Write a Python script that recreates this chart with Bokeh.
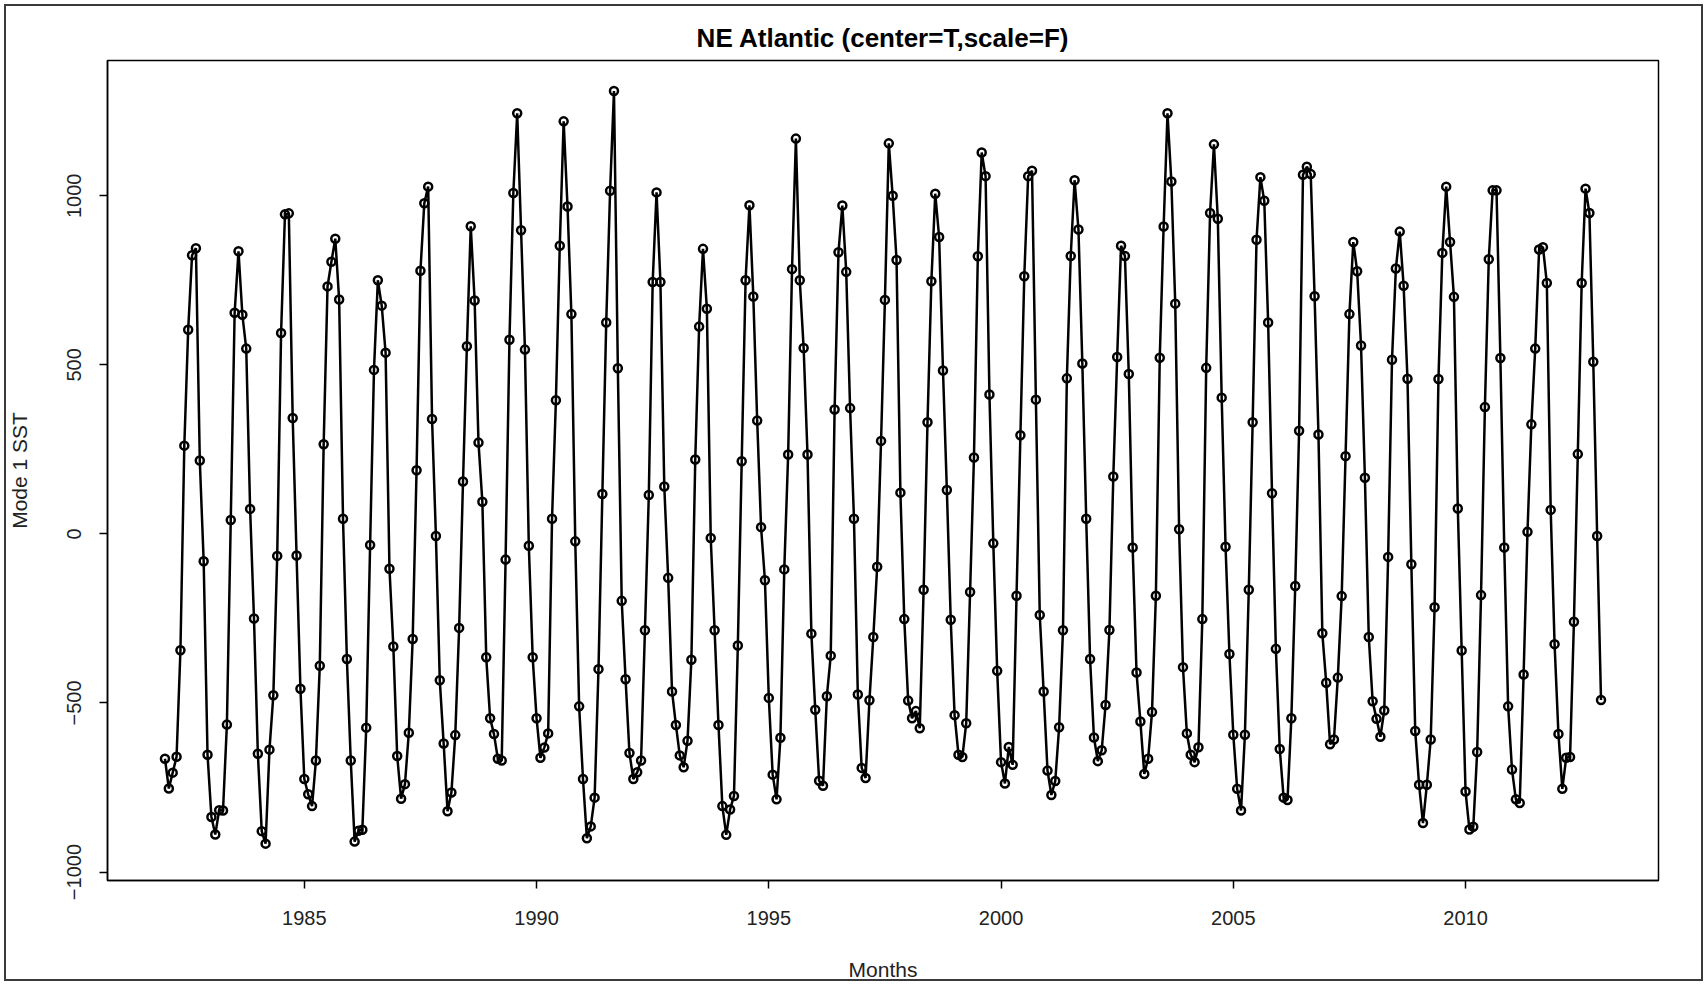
from bokeh.plotting import figure
from bokeh.models import Range1d, FixedTicker
from bokeh.embed import file_html
from bokeh.resources import INLINE

# ---- data: monthly values, Jan..Dec of each year ----
y1982 = [-665, -753, -706, -659, -344, 261, 604, 824, 845, 217, -81, -653]
y1983 = [-837, -889, -817, -818, -564, 41, 654, 836, 648, 548, 74, -250]
y1984 = [-650, -879, -916, -638, -477, -65, 594, 945, 948, 343, -64, -458]
y1985 = [-725, -770, -805, -670, -390, 265, 732, 805, 873, 693, 45, -370]
y1986 = [-670, -910, -878, -875, -573, -33, 485, 750, 675, 536, -103, -333]
y1987 = [-657, -783, -740, -588, -311, 188, 778, 978, 1027, 340, -6, -433]
y1988 = [-620, -820, -765, -595, -278, 155, 555, 910, 690, 270, 95, -365]
y1989 = [-545, -592, -665, -670, -76, 574, 1008, 1244, 898, 545, -35, -365]
y1990 = [-545, -662, -632, -590, 45, 395, 852, 1220, 968, 650, -22, -510]
y1991 = [-725, -900, -865, -780, -400, 118, 625, 1015, 1310, 490, -198, -430]
y1992 = [-648, -725, -705, -670, -285, 115, 745, 1010, 745, 140, -130, -466]
y1993 = [-565, -655, -690, -612, -372, 220, 613, 843, 666, -12, -285, -565]
y1994 = [-805, -890, -815, -775, -330, 215, 750, 972, 702, 335, 20, -137]
y1995 = [-485, -712, -785, -603, -105, 235, 783, 1169, 750, 550, 235, -295]
y1996 = [-520, -730, -745, -480, -360, 368, 833, 971, 775, 372, 45, -475]
y1997 = [-692, -722, -492, -305, -97, 275, 692, 1155, 1000, 810, 122, -252]
y1998 = [-493, -545, -524, -575, -165, 330, 747, 1006, 878, 483, 130, -254]
y1999 = [-536, -653, -660, -560, -172, 226, 821, 1128, 1058, 412, -28, -405]
y2000 = [-675, -738, -630, -683, -183, 292, 762, 1058, 1074, 397, -240, -466]
y2001 = [-700, -772, -731, -572, -285, 460, 822, 1046, 900, 504, 45, -370]
y2002 = [-602, -672, -640, -506, -284, 170, 523, 852, 822, 473, -40, -410]
y2003 = [-555, -710, -665, -527, -183, 521, 909, 1244, 1042, 681, 14, -394]
y2004 = [-590, -653, -675, -631, -252, 491, 949, 1152, 932, 403, -38, -355]
y2005 = [-594, -754, -818, -594, -165, 330, 870, 1055, 985, 625, 120, -340]
y2006 = [-636, -780, -787, -545, -154, 305, 1062, 1086, 1064, 703, 294, -294]
y2007 = [-440, -622, -608, -425, -184, 230, 650, 863, 777, 557, 166, -305]
y2008 = [-495, -547, -600, -522, -68, 515, 785, 894, 734, 459, -90, -583]
y2009 = [-742, -855, -742, -608, -217, 458, 831, 1027, 863, 701, 75, -345]
y2010 = [-762, -874, -866, -645, -181, 375, 812, 1016, 1016, 520, -40, -510]
y2011 = [-697, -785, -796, -416, 6, 324, 548, 841, 848, 742, 71, -326]
y2012 = [-592, -754, -662, -660, -260, 236, 742, 1021, 949, 509, -6, -491]

years = list(range(1982, 2013))
yearly = [y1982, y1983, y1984, y1985, y1986, y1987, y1988, y1989, y1990,
          y1991, y1992, y1993, y1994, y1995, y1996, y1997, y1998, y1999,
          y2000, y2001, y2002, y2003, y2004, y2005, y2006, y2007, y2008,
          y2009, y2010, y2011, y2012]

x_ticks = [1985, 1990, 1995, 2000, 2005, 2010]
y_ticks = [-1000, -500, 0, 500, 1000]

months = []
values = []
for yr, vals in zip(years, yearly):
    for m, v in enumerate(vals):
        months.append(yr + m / 12.0)
        values.append(v)

FONT = "Liberation Sans"

p = figure(width=1707, height=985,
           x_range=Range1d(1980.763, 2014.154),
           y_range=Range1d(-1025, 1400),
           output_backend="svg", toolbar_location=None,
           min_border_left=107, min_border_right=49,
           min_border_top=60, min_border_bottom=105,
           title="NE Atlantic (center=T,scale=F)")
# outer window frame: transparent canvas border so the host outline shows
p.border_fill_color = None
p.styles = {"outline": "2px solid #3a3a3a", "outline-offset": "-6px",
            "background-color": "white"}

p.title.align = "center"
p.title.text_font = FONT
p.title.text_font_size = "26px"
p.title.text_font_style = "bold"
p.title.text_color = "black"
p.title.standoff = 16

p.grid.visible = False
p.outline_line_color = "black"
p.outline_line_width = 1.5
p.background_fill_color = "white"

for ax in (p.xaxis[0], p.yaxis[0]):
    ax.axis_line_color = "black"
    ax.axis_line_width = 1.5
    ax.major_tick_line_color = "black"
    ax.major_tick_line_width = 1.5
    ax.major_tick_out = 8
    ax.major_tick_in = 0
    ax.minor_tick_line_color = None
    ax.major_label_text_font = FONT
    ax.major_label_text_font_size = "20px"
    ax.major_label_text_color = "#222222"
    ax.axis_label_text_font = FONT
    ax.axis_label_text_font_size = "21px"
    ax.axis_label_text_font_style = "normal"
    ax.axis_label_text_color = "#222222"

p.xaxis.ticker = FixedTicker(ticks=x_ticks)
p.yaxis.ticker = FixedTicker(ticks=y_ticks)
p.yaxis.major_label_orientation = "vertical"
p.xaxis.major_label_standoff = 22
p.yaxis.major_label_standoff = 18
p.xaxis.axis_label = "Months"
p.yaxis.axis_label = "Mode 1 SST"
p.xaxis.axis_label_standoff = 30
p.yaxis.axis_label_standoff = 34

p.line(months, values, line_color="black", line_width=2.5)
p.scatter(months, values, marker="circle", size=8, fill_color=None,
          line_color="black", line_width=2.5)

open("out.html", "w").write(file_html(p, INLINE))
